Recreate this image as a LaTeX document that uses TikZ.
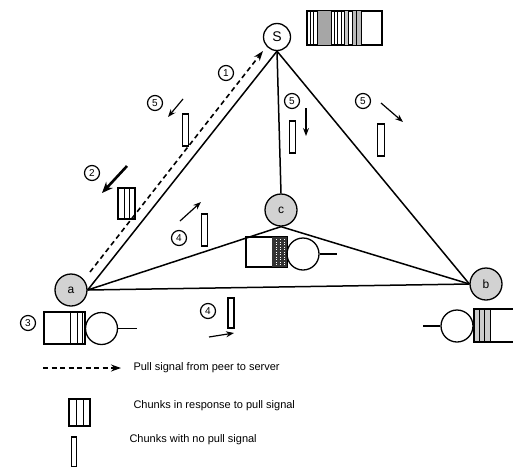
\documentclass[tikz,border=0pt]{standalone}
\usepackage{fontspec}
\setmainfont{Liberation Sans}
\usetikzlibrary{arrows.meta}
\begin{document}
\begin{tikzpicture}[x=1pt,y=-1pt,
  peer/.style={circle,draw,line width=1.3pt,fill=gray!35,minimum size=32pt,inner sep=0pt,font=\fontsize{12}{12}\selectfont},
  srv/.style={circle,draw,line width=1.3pt,fill=white,minimum size=27pt,inner sep=0pt,font=\fontsize{14}{14}\selectfont},
  num/.style={circle,draw,line width=1.2pt,minimum size=15pt,inner sep=0pt,font=\fontsize{10}{10}\selectfont},
  link/.style={line width=1.5pt},
  chunk/.style={draw,line width=1.1pt,minimum width=6pt,minimum height=32pt,inner sep=0pt,fill=white},
  sarrow/.style={line width=1.2pt,-{Stealth[length=8pt,width=6pt]}},
  barrow/.style={line width=2.6pt,-{Stealth[length=11pt,width=9pt]}},
  qbox/.style={draw,line width=1.3pt,inner sep=0pt},
  qserv/.style={circle,draw,line width=1.3pt,minimum size=32pt,inner sep=0pt},
  stripe/.style={line width=1pt},
  pull/.style={line width=1.6pt,dash pattern=on 5pt off 3.5pt,-{Stealth[length=10pt,width=7pt]}},
  legend/.style={anchor=west,font=\fontsize{11}{13}\selectfont}
]
\useasboundingbox (0,0) rectangle (513,466);

% peers and server
\node[srv] (S) at (277,37) {S};
\node[peer] (a) at (71,290) {a};
\node[peer] (c) at (281,210) {c};
\node[peer] (b) at (486,284) {b};

% links
\draw[link] (S.south) -- (a.east);
\draw[link] (S.south) -- (c.north);
\draw[link] (S.south) -- (b.west);
\draw[link] (a.east) -- (c.south);
\draw[link] (c.south) -- (b.west);
\draw[link] (a.east) -- (b.west);

% pull signal
\coordinate (p0) at (90,272);
\coordinate (p1) at (263,51);
\draw[pull] (p0) -- (p1);

% chunk strip at the server
\node[qbox,minimum width=75pt,minimum height=34pt] (Sq) at (344.5,28) {};
\fill[gray!70] (318,11) rectangle (331,45);
\fill[gray!45] (344,11) rectangle (348,45);
\fill[gray!55] (352,11) rectangle (361,45);
\foreach \x in {310,313,317,331,334,337,341,344,348,352,356,361}
  \draw[stripe] (\x,11) -- (\x,45);
\draw[line width=1.3pt] (Sq.south west) rectangle (Sq.north east);

% queue of peer a
\node[qbox,minimum width=41pt,minimum height=32pt] (qa) at (64.5,328) {};
\foreach \x in {70,77,82}
  \draw[stripe] (\x,312) -- (\x,344);
\node[qserv] (sa) at (101.5,328.5) {};
\coordinate (ta) at (137,328.5);
\draw[line width=1.3pt] (sa.east) -- (ta);

% queue of peer c
\node[qbox,minimum width=41pt,minimum height=30pt] (qc) at (266.5,252) {};
\fill[black!80] (272,237) rectangle (287,267);
\foreach \x in {276,280,284}
  \draw[white,line width=0.5pt,dash pattern=on 1pt off 1.5pt] (\x,239) -- (\x,265);
\draw[line width=1.3pt] (qc.south west) rectangle (qc.north east);
\node[qserv] (sc) at (303,254) {};
\coordinate (tc) at (337,254);
\draw[line width=1.3pt] (sc.east) -- (tc);

% queue of peer b
\fill[gray!40] (474,309) rectangle (490,342);
\draw[line width=1.3pt] (513,309) -- (474,309) -- (474,342) -- (513,342);
\foreach \x in {479,484,490}
  \draw[stripe] (\x,309) -- (\x,342);
\node[qserv] (sb) at (457,326) {};
\coordinate (tb) at (423,326);
\draw[line width=1.3pt] (sb.west) -- (tb);

% step numbers
\node[num] (n1) at (226,73) {1};
\node[num] (n2) at (92,173) {2};
\node[num] (n3) at (28,323) {3};
\node[num] (n4a) at (179,238) {4};
\node[num] (n4b) at (208,311) {4};
\node[num] (n5a) at (155,103) {5};
\node[num] (n5b) at (292,101) {5};
\node[num] (n5c) at (363,101) {5};

% chunks with no pull signal
\node[chunk] (k5a) at (185.5,130) {};
\node[chunk] (k5b) at (292.5,137) {};
\node[chunk,minimum width=7pt] (k5c) at (381,140) {};
\node[chunk] (k4a) at (204.5,230) {};
\node[chunk,minimum height=30pt] (k4b) at (231,313) {};

% chunk in response to pull signal
\node[qbox,minimum width=17pt,minimum height=31pt] (k2) at (126.5,203.5) {};
\draw[stripe] (124,188) -- (124,219);
\draw[stripe] (129,188) -- (129,219);

% movement arrows
\coordinate (m5a0) at (183,99);  \coordinate (m5a1) at (168,117);
\coordinate (m5b0) at (306,108); \coordinate (m5b1) at (306,136);
\coordinate (m5c0) at (381,103); \coordinate (m5c1) at (403,122);
\coordinate (m4a0) at (180,221); \coordinate (m4a1) at (201,202);
\coordinate (m4b0) at (209,337); \coordinate (m4b1) at (234,333);
\coordinate (m20) at (127,166);  \coordinate (m21) at (102,193);
\draw[sarrow] (m5a0) -- (m5a1);
\draw[sarrow] (m5b0) -- (m5b1);
\draw[sarrow] (m5c0) -- (m5c1);
\draw[sarrow] (m4a0) -- (m4a1);
\draw[sarrow] (m4b0) -- (m4b1);
\draw[barrow] (m20) -- (m21);

% legend
\coordinate (l0) at (43,368);
\coordinate (l1) at (121,368);
\draw[pull] (l0) -- (l1);
\node[legend] (t1) at (130,368) {Pull signal from peer to server};
\node[qbox,minimum width=21pt,minimum height=27pt] (lk2) at (79.5,412.5) {};
\draw[stripe] (76,399) -- (76,426);
\draw[stripe] (83,399) -- (83,426);
\node[legend] (t2) at (130,406) {Chunks in response to pull signal};
\node[chunk,minimum width=5pt,minimum height=30pt] (lk1) at (74,452) {};
\node[legend] (t3) at (126,440) {Chunks with no pull signal};
\end{tikzpicture}
\end{document}
